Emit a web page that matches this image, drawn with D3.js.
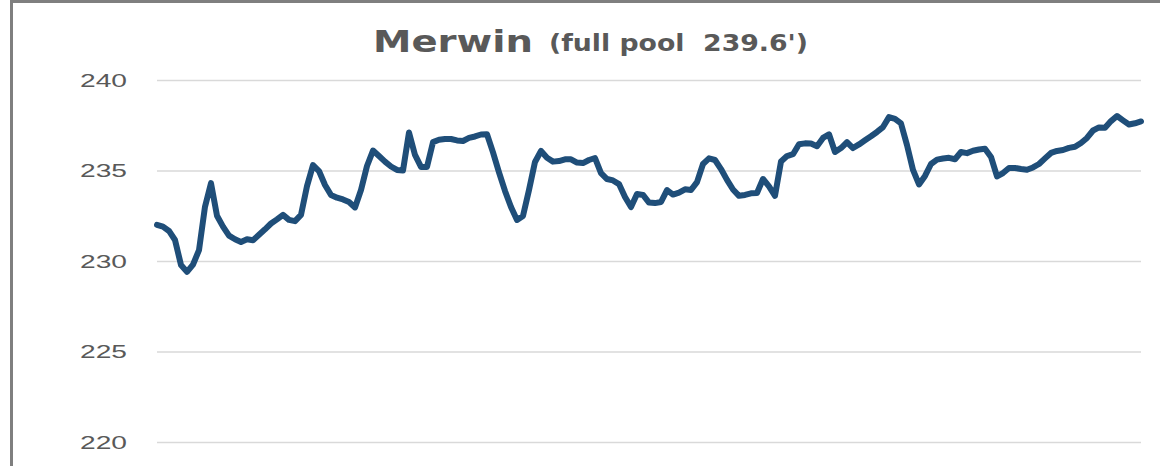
<html>
<head>
<meta charset="utf-8">
<script src="https://d3js.org/d3.v7.min.js"></script>
<style>
  body { margin: 0; background: #fff; }
</style>
</head>
<body>
<div id="chart"></div>
<script>
// chart data (pool elevation, feet)
const titleMain = "Merwin";
const titleSub = "(full pool  239.6')";
const yTicks = [220, 225, 230, 235, 240];
const elevation = [
  232.0, 231.9, 231.66, 231.16, 229.78, 229.4, 229.8, 230.6, 233.0, 234.3,
  232.5, 231.9, 231.4, 231.2, 231.05, 231.2, 231.15, 231.45, 231.75, 232.07,
  232.3, 232.55, 232.27, 232.2, 232.55, 234.14, 235.3, 234.97, 234.2, 233.65,
  233.5, 233.4, 233.26, 232.96, 233.92, 235.25, 236.1, 235.8, 235.49, 235.22,
  235.03, 235.0, 237.1, 235.86, 235.2, 235.2, 236.57, 236.7, 236.74, 236.74,
  236.66, 236.63, 236.8, 236.88, 236.99, 237.0, 236.0, 234.9, 233.87, 232.98,
  232.27, 232.49, 233.92, 235.47, 236.08, 235.7, 235.49, 235.52, 235.62, 235.62,
  235.44, 235.41, 235.58, 235.69, 234.86, 234.53, 234.45, 234.25, 233.54, 232.98,
  233.7, 233.65, 233.23, 233.2, 233.26, 233.92, 233.67, 233.78, 233.96, 233.92,
  234.36, 235.36, 235.67, 235.58, 235.08, 234.48, 233.95, 233.6, 233.65, 233.74,
  233.76, 234.53, 234.12, 233.6, 235.5, 235.8, 235.9, 236.45, 236.5, 236.49,
  236.34, 236.8, 237.0, 236.02, 236.24, 236.56, 236.24, 236.44, 236.67, 236.89,
  237.13, 237.4, 237.95, 237.85, 237.6, 236.4, 235.03, 234.23, 234.7, 235.36,
  235.6, 235.66, 235.7, 235.62, 236.02, 235.96, 236.09, 236.16, 236.2, 235.75,
  234.67, 234.86, 235.14, 235.14, 235.08, 235.04, 235.17, 235.36, 235.67, 235.97,
  236.08, 236.13, 236.25, 236.31, 236.52, 236.8, 237.21, 237.38, 237.36, 237.73,
  238.01, 237.77, 237.54, 237.61, 237.71
];

const W = 1160, H = 466;
const plot = {left: 157, right: 1141, top: 80, bottom: 442};

const svg = d3.select("#chart").append("svg")
  .attr("width", W)
  .attr("height", H);

svg.append("rect")
  .attr("width", W).attr("height", H)
  .attr("fill", "#fff");

// chart frame (cut off at right and bottom)
svg.append("path")
  .attr("d", "M11.5," + (H + 5) + " V1.5 H" + (W + 5))
  .attr("fill", "none")
  .attr("stroke", "#7f7f7f")
  .attr("stroke-width", 3);

const x = d3.scaleLinear()
  .domain([0, elevation.length - 1])
  .range([plot.left, plot.right]);

const y = d3.scaleLinear()
  .domain([220, 240])
  .range([plot.bottom, plot.top]);

// y axis: gridlines + labels
const yAxis = svg.append("g")
  .attr("transform", "translate(" + plot.left + ",0)")
  .call(d3.axisLeft(y)
    .tickValues(yTicks)
    .tickSize(-(plot.right - plot.left))
    .tickPadding(30));

yAxis.select(".domain").remove();
yAxis.selectAll(".tick line")
  .attr("stroke", "#d9d9d9")
  .attr("stroke-width", 1.5);
yAxis.selectAll(".tick text")
  .attr("fill", "#595959")
  .attr("font-family", "'Liberation Sans', Arial, sans-serif")
  .attr("font-size", 18)
  .attr("textLength", 47)
  .attr("lengthAdjust", "spacingAndGlyphs")
  .attr("dy", "0.36em");

// series line
const line = d3.line()
  .x((d, i) => x(i))
  .y(d => y(d));

svg.append("path")
  .datum(elevation)
  .attr("fill", "none")
  .attr("stroke", "#1f4e79")
  .attr("stroke-width", 6)
  .attr("stroke-linejoin", "round")
  .attr("stroke-linecap", "round")
  .attr("d", line);

// title
svg.append("text")
  .attr("x", 373).attr("y", 52)
  .attr("fill", "#595959")
  .attr("font-family", "'DejaVu Sans', Verdana, sans-serif")
  .attr("font-weight", "bold")
  .attr("font-size", 30)
  .attr("textLength", 160)
  .attr("lengthAdjust", "spacingAndGlyphs")
  .text(titleMain);

svg.append("text")
  .attr("x", 549).attr("y", 51)
  .attr("fill", "#595959")
  .attr("font-family", "'DejaVu Sans', Verdana, sans-serif")
  .attr("font-weight", "bold")
  .attr("font-size", 23)
  .attr("textLength", 259)
  .attr("lengthAdjust", "spacingAndGlyphs")
  .style("white-space", "pre")
  .text(titleSub);
</script>
</body>
</html>
